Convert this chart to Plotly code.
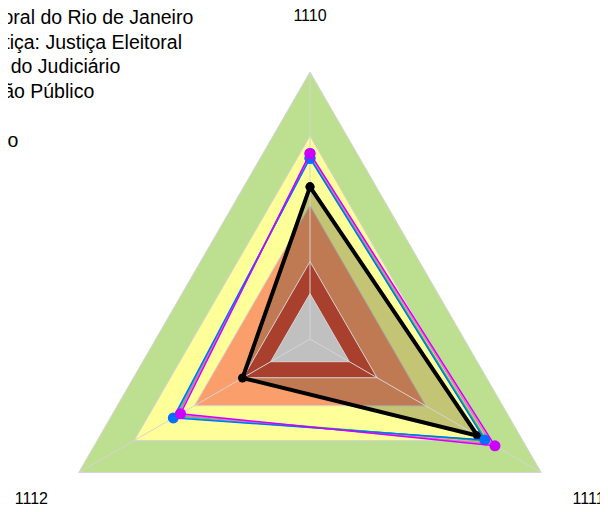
import numpy as np
import plotly.graph_objects as go

# ---------------- data ----------------
categories = ["1110", "1111", "1112"]

band_limits = [1.00, 0.76, 0.50, 0.29, 0.17]
band_colors = ["#BCE08F", "#FFFF99", "#FA9F6C", "#A9402E", "#C0C0C0"]

series_names = [
    "Tribunal Regional Eleitoral do Rio de Janeiro",
    "Por Segmentos de Justiça: Justiça Eleitoral",
    "Poder: Demais Órgãos do Judiciário",
    "Natureza Jurídica: Órgão Público",
    "Média Geral",
    "Médias do Setor Público",
]
tre_rj = [0.570, 0.725, 0.292]
segmento = [0.680, 0.760, 0.585]
judiciario = [0.685, 0.765, 0.575]
orgao_publico = [0.690, 0.785, 0.570]
media_geral = [0.677, 0.756, 0.591]
setor_publico = [0.695, 0.800, 0.560]
series_values = [tre_rj, segmento, judiciario, orgao_publico, media_geral, setor_publico]
series_colors = ["#000000", "#00CCCC", "#33CC33", "#FF66CC", "#0070FF", "#CC00FF"]

# ---------------- geometry helpers ----------------
n = len(categories)
theta = np.deg2rad(90 - 360 * np.arange(n) / n)  # clockwise from top


def xy(vals, close=True):
    r = np.asarray(vals, dtype=float)
    t = theta
    if close:
        r = np.append(r, r[0])
        t = np.append(t, t[0])
    return r * np.cos(t), r * np.sin(t)


R_PX = 267.0
CX, CY = 302.0, 331.0
W, H = 608, 512

fig = go.Figure()


def band(level, color):
    x, y = xy([level] * n)
    fig.add_trace(go.Scatter(x=x, y=y, mode="lines", fill="toself", fillcolor=color,
                             line=dict(color="#D4D4D4", width=1), showlegend=False,
                             hoverinfo="skip"))


# outer bands
for lvl, col in zip(band_limits[:3], band_colors[:3]):
    band(lvl, col)

# translucent fill of the main series
fx, fy = xy(tre_rj)
fig.add_trace(go.Scatter(x=fx, y=fy, mode="lines", fill="toself",
                         fillcolor="rgba(0,0,0,0.23)", line=dict(width=0),
                         showlegend=False, hoverinfo="skip"))

# inner bands
for lvl, col in zip(band_limits[3:], band_colors[3:]):
    band(lvl, col)

# spokes
for t in theta:
    fig.add_trace(go.Scatter(x=[0, band_limits[0] * np.cos(t)], y=[0, band_limits[0] * np.sin(t)],
                             mode="lines", line=dict(color="#D4D4D4", width=1),
                             showlegend=False, hoverinfo="skip"))

# series
for i, (name, vals, col) in enumerate(zip(series_names, series_values, series_colors)):
    x, y = xy(vals)
    if i == 0:
        mode, lw, ms = "lines+markers", 4, 9
    elif col in ("#0070FF", "#CC00FF"):
        mode, lw, ms = "lines+markers", 1.5, 11
    else:
        mode, lw, ms = "lines", 1.5, 6
    fig.add_trace(go.Scatter(
        x=x, y=y, mode=mode, name=f'<span style="font-size:19.5px">{name}</span>',
        line=dict(color=col, width=lw), marker=dict(color=col, size=ms, symbol="circle"),
        showlegend=True))

# category labels
lx, ly = xy([1.205] * n, close=False)
fig.add_trace(go.Scatter(x=lx, y=ly, mode="text", text=categories,
                         textfont=dict(size=16, color="#000000", family="Liberation Sans, Arial"),
                         showlegend=False, hoverinfo="skip", cliponaxis=False))

fig.update_layout(
    width=W, height=H,
    margin=dict(l=0, r=0, t=0, b=0, pad=0, autoexpand=False),
    paper_bgcolor="white", plot_bgcolor="white",
    font=dict(family="Liberation Sans, Arial", color="#000000"),
    xaxis=dict(visible=False, range=[-CX / R_PX, (W - CX) / R_PX], fixedrange=True),
    yaxis=dict(visible=False, range=[-(H - CY) / R_PX, CY / R_PX], fixedrange=True),
    legend=dict(x=-241 / W, xanchor="left", y=1.0 + 8 / H, yanchor="top",
                bgcolor="rgba(0,0,0,0)", font=dict(size=16.7, color="#000000",
                                                   family="Liberation Sans, Arial")),
    showlegend=True,
)

fig.write_html("out.html")
